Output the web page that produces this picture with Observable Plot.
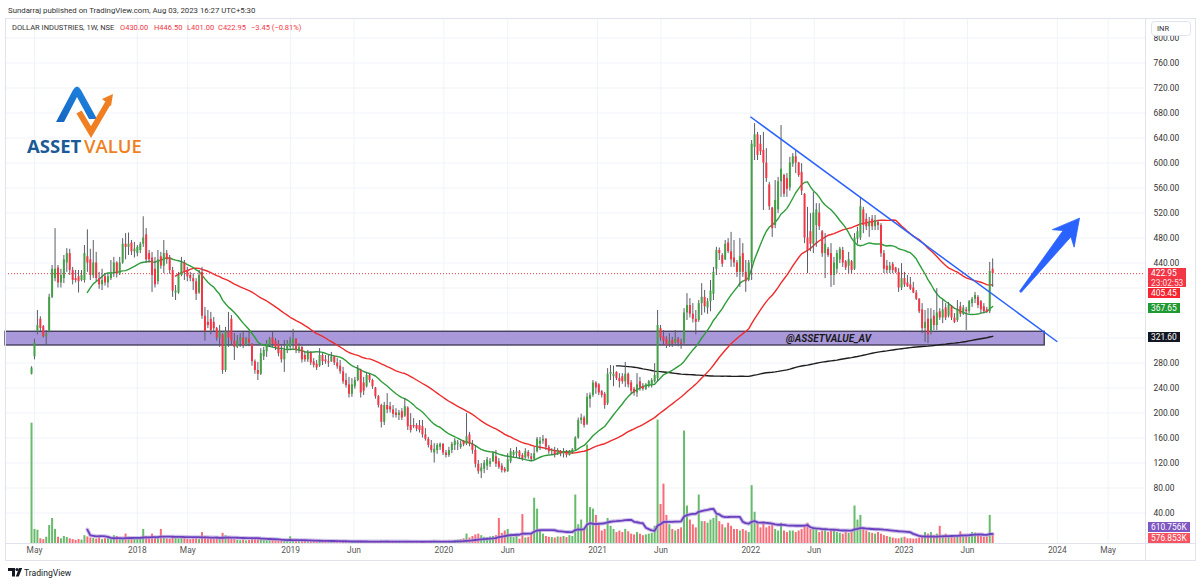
<!DOCTYPE html>
<html>
<head>
<meta charset="utf-8">
<script src="https://cdn.jsdelivr.net/npm/d3@7"></script>
<script src="https://cdn.jsdelivr.net/npm/@observablehq/plot@0.6"></script>
<style>
html,body{margin:0;padding:0;background:#fff;}
#root{position:relative;width:1200px;height:584px;overflow:hidden;font-family:Roboto,"Noto Sans",sans-serif;color:#131722;}
.layer{position:absolute;left:0;top:18px;}
#labels{position:absolute;left:1145px;top:18px;width:55px;height:525px;overflow:hidden;}
.lbl{position:absolute;left:3px;font-size:8.4px;line-height:10px;color:#fff;padding:0 3px;white-space:nowrap;}
.frame{position:absolute;background:#e0e3eb;}
</style>
</head>
<body>
<div id="root"></div>
<script>
// ---------- data ----------
const firstWeek = "2017-04-24";
const opens = [
262,290,330,350,338,322,330,385,415,432, 408,415,440,455,428,415,418,412,412,450,
445,420,440,415,405,418,408,415,425,440, 422,440,470,465,472,458,455,460,470,485,
455,448,430,410,450,435,455,448,428,392, 392,420,440,428,420,415,410,392,425,355,
345,350,345,335,320,325,268,330,350,315, 305,315,320,308,318,310,282,268,262,290,
298,308,320,315,310,300,285,300,305,312, 318,300,305,292,285,296,282,278,275,292,
285,282,282,290,280,275,266,252,245,230, 242,252,268,248,242,260,252,240,226,212,
185,212,210,205,200,196,202,195,208,180, 180,180,180,178,165,158,148,136,140,145,
150,136,132,140,148,150,145,155,150,165, 150,140,118,106,110,115,118,122,130,122,
115,110,106,122,132,135,138,132,128,137, 130,126,138,150,155,158,145,138,140,133,
138,134,138,132,136,141,160,188,192,182, 222,228,248,245,234,230,215,262,258,265,
255,258,250,262,248,238,232,250,242,238, 242,244,250,255,335,322,318,310,316,312,
318,312,312,360,372,358,350,348,375,385, 368,378,390,430,460,452,445,472,458,448,
440,425,455,425,412,440,625,645,630,620, 600,565,528,500,525,570,580,575,560,598,
610,600,585,550,480,490,470,500,520,490, 455,462,455,420,430,445,460,442,435,442,
430,478,480,525,510,498,510,498,505,500, 455,435,428,438,432,425,400,415,408,405,
400,392,382,365,335,350,330,355,340,362, 352,368,355,370,352,348,370,358,365,362,
375,382,385,378,370,365,362,430];
const highs = [
274,318,364,354,340,332,390,436,495,436, 430,452,463,462,433,428,428,428,468,493,
462,476,457,425,430,423,423,444,449,442, 449,479,487,488,476,473,468,473,514,495,
460,457,449,460,457,476,460,452,433,404, 425,449,444,433,425,423,415,428,433,369,
364,361,353,337,340,327,337,361,356,327, 324,327,329,321,329,311,285,281,303,305,
316,321,329,319,316,308,316,316,321,334, 319,311,306,297,300,298,287,284,303,295,
292,292,297,291,287,284,273,263,257,255, 257,276,270,257,265,262,254,241,228,214,
217,231,217,212,207,204,207,223,210,199, 191,183,188,188,175,161,156,151,151,152,
151,140,145,153,159,156,155,156,199,169, 156,148,124,119,124,129,127,137,140,127,
119,113,135,143,140,145,140,135,143,140, 135,145,161,161,164,159,148,143,145,143,
140,143,140,140,143,162,192,198,195,231, 232,252,250,247,236,233,271,276,275,266,
263,263,281,264,252,241,263,257,247,247, 252,255,279,364,340,332,322,327,321,332,
321,318,367,391,383,375,364,380,407,396, 383,412,433,465,464,455,476,479,489,476,
444,479,471,444,444,636,663,649,644,649, 623,569,529,572,577,660,582,583,609,615,
620,601,599,551,529,519,553,535,535,492, 487,465,471,449,460,465,465,444,457,444,
487,497,545,529,519,513,516,516,508,503, 460,444,441,441,433,431,439,425,420,417,
409,396,383,375,364,367,367,364,399,367, 380,375,377,372,359,380,377,372,369,380,
385,393,388,380,375,369,441,446.5];
const lows = [
261,285,325,330,320,308,328,383,410,400, 400,407,425,420,405,408,392,410,408,425,
412,415,410,398,396,403,400,412,417,416, 420,438,445,452,452,448,450,455,465,440,
440,393,400,405,430,423,438,422,385,380, 390,418,412,410,410,396,380,390,350,315,
335,325,330,315,305,262,265,305,308,284, 303,305,303,306,306,275,262,252,260,284,
289,305,305,300,290,280,265,295,300,303, 295,295,280,281,281,276,272,268,273,276,
278,273,281,276,270,262,246,240,224,225, 238,250,224,228,240,248,238,222,208,176,
180,199,200,192,192,188,188,193,172,168, 175,170,168,160,155,144,136,120,134,140,
132,128,129,135,140,140,142,146,148,146, 134,112,102,95,103,108,113,121,113,110,
104,104,105,119,129,128,126,123,126,126, 122,124,136,140,150,140,134,132,128,132,
130,128,128,131,134,140,158,182,176,180, 208,225,230,228,224,206,212,252,242,252,
240,246,241,240,230,227,225,235,235,236, 240,240,248,250,315,308,303,305,305,310,
306,302,310,348,352,344,325,345,356,360, 358,362,380,420,444,433,444,455,433,433,
417,401,417,393,410,412,604,604,612,524, 569,524,481,495,519,545,545,545,555,593,
583,577,548,471,423,458,455,465,492,449, 415,449,401,404,423,439,433,428,423,423,
428,470,476,487,492,481,492,492,492,449, 423,423,423,423,423,393,396,401,401,396,
391,380,359,327,313,311,325,332,332,348, 343,348,352,348,343,345,353,356,332,359,
369,375,367,359,359,359,359,401];
const closes = [
272,312,340,335,322,326,385,430,430,408, 420,445,455,428,412,412,410,420,455,440,
420,440,415,405,412,408,418,425,440,422, 440,470,465,470,458,462,465,470,480,445,
445,420,405,445,435,455,445,428,395,395, 420,440,425,418,415,410,390,420,355,330,
340,332,335,320,330,268,330,320,315,305, 315,320,308,318,312,282,268,262,295,300,
310,318,310,305,295,285,300,310,315,318, 300,305,285,285,296,280,276,272,292,282,
282,280,290,280,274,266,250,244,230,245, 252,270,232,235,260,252,242,226,212,185,
212,205,205,198,196,200,192,210,178,172, 178,174,172,165,158,148,140,142,148,150,
136,132,140,150,155,152,150,149,162,150, 140,118,106,112,120,125,122,135,118,113,
108,106,125,138,137,138,130,127,138,130, 126,135,158,155,158,145,138,140,133,140,
134,138,132,138,141,160,188,192,180,225, 228,248,240,232,228,212,262,265,262,255,
250,250,262,245,235,232,245,240,238,245, 250,252,260,340,320,315,308,315,310,318,
312,310,360,372,358,350,345,375,385,370, 378,395,425,460,455,438,470,458,445,440,
425,450,425,410,440,630,645,612,618,600, 575,530,495,540,570,590,550,558,600,610,
600,580,555,480,460,470,520,525,498,455, 470,452,420,440,455,462,440,432,445,428,
480,490,530,500,498,505,498,508,500,455, 430,428,435,428,425,400,415,405,402,398,
392,382,362,335,345,325,350,340,360,352, 365,352,372,352,345,365,358,368,362,378,
382,388,372,365,362,361,426.4,422.95];
// weekly volume, thousands of shares
const volumesK = [
7700,900,850,300,250,400,1150,1600,900,400,300,450,380,300,250,200,260,220,500,420,
350,320,280,400,250,300,350,280,500,450,300,320,600,400,350,300,280,350,900,450,
400,600,350,300,900,350,300,280,450,350,300,380,320,280,250,300,350,280,700,450,
400,350,300,380,320,650,500,380,300,260,200,180,220,170,190,280,320,300,230,200,
180,170,200,160,180,220,240,170,430,160,150,130,150,120,110,130,140,120,160,130,
110,100,120,100,110,120,150,130,160,140,110,140,150,120,100,90,100,110,120,170,
160,130,100,100,90,110,100,130,140,120,100,90,110,100,120,130,150,170,130,120,
120,130,150,140,180,220,250,300,600,350,450,550,600,500,400,380,420,450,500,1600,
650,800,900,600,380,500,280,1850,350,400,600,2900,2200,800,600,450,400,380,350,420,
400,450,380,500,450,3100,1200,1500,900,6300,2300,2200,1800,1200,800,900,1600,1100,900,700,
800,700,900,750,600,550,700,600,500,550,600,650,1100,7900,2500,3800,1800,1200,900,800,
900,1000,7200,2400,1500,1200,1000,3100,1400,1400,1300,1500,1600,1800,1400,1200,1000,1300,1100,900,
900,800,900,800,700,3700,2000,1300,1000,1400,1000,1100,1200,900,800,1300,800,700,800,800,
700,800,900,1100,1300,900,1000,900,700,800,900,700,900,800,700,650,600,700,650,700,
2400,1500,1800,1000,800,700,650,600,700,600,500,450,400,350,300,300,350,400,300,300,
280,300,350,450,700,600,700,500,
600,1100,500,600,450,500,400,450,750,500,450,400,700,668.267,500,450,400,420,1800,576.853];

const priceTicks = [40,80,120,160,200,240,280,320,360,400,440,480,520,560,600,640,680,720,760,800];
const tickDates = ["2017-05-01","2018-01-01","2018-05-01","2019-01-01","2019-06-01","2020-01-01","2020-06-01","2021-01-01","2021-06-01","2022-01-01","2022-06-01","2023-01-01","2023-06-01","2024-01-01","2024-05-01"];
const tickLabels = ["May","2018","May","2019","Jun","2020","Jun","2021","Jun","2022","Jun","2023","Jun","2024","May"];

const zoneBox = {x1:"2017-02-21", x2:"2023-12-02", y1:308, y2:330, label:"@ASSETVALUE_AV", labelAt:"2022-07-05"};
const trendLine = {x1:"2021-12-31", y1:674, x2:"2024-01-01", y2:314};
const bigArrow = {x1:"2023-10-06", y1:393, x2:"2024-02-24", y2:511};
const axisLabels = {sma50:"405.45", sma20:"367.65", sma200:"321.60", volMA:"610.756K", vol:"576.853K", countdown:"23:02:53"};
const change = {abs:"−3.45", pct:"(−0.81%)"};

// ---------- build ----------
const parse = d3.utcParse("%Y-%m-%d");
const t0 = parse(firstWeek);
const n = Math.min(opens.length, highs.length, lows.length, closes.length, volumesK.length);
const candles = d3.range(n).map(i => ({
  date: d3.utcDay.offset(t0, 7*i), open: opens[i], high: highs[i], low: lows[i], close: closes[i], vol: volumesK[i]*1000
}));
const sma = (arr, k) => arr.map((_, i) => i < k-1 ? NaN : d3.mean(arr.slice(i-k+1, i+1)));
const cl = candles.map(d => d.close), vv = candles.map(d => d.vol);
const s20 = sma(cl,20), s50 = sma(cl,50), s200 = sma(cl,200), v20 = sma(vv,20);
candles.forEach((d,i) => {d.s20 = s20[i]; d.s50 = s50[i]; d.s200 = s200[i]; d.v20 = v20[i];});

const GREEN = "#43a047", RED = "#f23645";
const xDomain = [parse("2017-02-21"), parse("2024-07-29")];
const priceDomain = [-8.8, 831.2];
const volTop = 525 * 64000;
const base = {
  width: 1200, height: 543, marginLeft: 5, marginRight: 55, marginTop: 0, marginBottom: 18,
  x: {type: "utc", domain: xDomain, axis: null},
  style: {background: "transparent", fontFamily: "Roboto, 'Noto Sans', sans-serif", fontSize: "8.4px", overflow: "visible"}
};
const tickData = tickDates.map((d,i) => ({date: parse(d), label: tickLabels[i]}));
const zone = [{x1: parse(zoneBox.x1), x2: parse(zoneBox.x2), y1: zoneBox.y1, y2: zoneBox.y2, label: zoneBox.label, tx: parse(zoneBox.labelAt), ty: (zoneBox.y1+zoneBox.y2)/2}];
const trend = [{x1: parse(trendLine.x1), y1: trendLine.y1, x2: parse(trendLine.x2), y2: trendLine.y2}];
const last = candles[candles.length-1];

const gridPlot = Plot.plot({...base, y: {domain: priceDomain, axis: null}, marks: [
  Plot.ruleY(priceTicks, {stroke: "#f0f3fa", strokeWidth: 1}),
  Plot.ruleX(tickData, {x: "date", stroke: "#f0f3fa", strokeWidth: 1})
]});

const volPlot = Plot.plot({...base, y: {domain: [0, volTop], axis: null}, marks: [
  Plot.ruleX(candles, {x: "date", y1: 0, y2: "vol", stroke: d => d.close >= d.open ? "#4caf50" : "#f7525f", strokeWidth: 2, strokeOpacity: 0.85}),
  Plot.line(candles, {x: "date", y: "v20", stroke: "#b39ddb", strokeWidth: 4, strokeOpacity: 0.6}),
  Plot.line(candles, {x: "date", y: "v20", stroke: "#6a3fc0", strokeWidth: 1.8})
]});

const pricePlot = Plot.plot({...base, y: {domain: priceDomain, axis: null}, marks: [
  Plot.rect(zone, {x1: "x1", x2: "x2", y1: "y1", y2: "y2", fill: "#9a86d4", fillOpacity: 0.85, stroke: "#3b3550", strokeWidth: 1.3}),
  Plot.ruleY([last.close], {stroke: RED, strokeWidth: 1, strokeDasharray: "1,2"}),
  Plot.line(candles, {x: "date", y: "s200", stroke: "#1e1e1e", strokeWidth: 1.4}),
  Plot.line(candles, {x: "date", y: "s50", stroke: "#ef2b2b", strokeWidth: 1.4}),
  Plot.line(candles, {x: "date", y: "s20", stroke: "#2e9d3a", strokeWidth: 1.4}),
  Plot.ruleX(candles, {x: "date", y1: "low", y2: "high", stroke: "#5a5d66", strokeWidth: 1}),
  Plot.ruleX(candles, {x: "date", y1: "open", y2: "close", stroke: d => d.close >= d.open ? GREEN : RED, strokeWidth: 2}),
  Plot.text(zone, {x: "tx", y: "ty", text: "label", fontStyle: "italic", fontWeight: "bold", fontSize: 10, fill: "#1a1a1a"}),
  Plot.link(trend, {x1: "x1", y1: "y1", x2: "x2", y2: "y2", stroke: "#2962ff", strokeWidth: 1.5}),
  Plot.text(priceTicks, {y: d => d, text: d => d.toFixed(2), frameAnchor: "right", dx: 8, textAnchor: "start", fill: "#333", fontSize: 8.4}),
  Plot.text(tickData, {x: "date", text: "label", frameAnchor: "bottom", dy: 9, fill: "#555", fontSize: 8.4})
]});

// blue arrow drawn through the plot's own scales
(function(){
  const xs = pricePlot.scale("x"), ys = pricePlot.scale("y");
  const p0 = [xs.apply(parse(bigArrow.x1)), ys.apply(bigArrow.y1)];
  const p1 = [xs.apply(parse(bigArrow.x2)), ys.apply(bigArrow.y2)];
  const dx = p1[0]-p0[0], dy = p1[1]-p0[1], L = Math.hypot(dx,dy);
  const u = [dx/L, dy/L], nn = [-u[1], u[0]];
  const P = (a, b) => [p0[0] + u[0]*a + nn[0]*b, p0[1] + u[1]*a + nn[1]*b];
  const hb = L - 24;
  const pts = [P(0,1), P(hb+4,5), P(hb-2,14), P(L,0), P(hb-2,-14), P(hb+4,-5), P(0,-1)];
  d3.select(pricePlot).append("path")
    .attr("d", "M" + pts.map(p => p.join(",")).join("L") + "Z")
    .attr("fill", "#2962ff").attr("stroke", "#2962ff").attr("stroke-width", 0.8).attr("stroke-linejoin", "round");
})();

const root = document.getElementById("root");
for (const p of [gridPlot, volPlot, pricePlot]) { p.classList.add("layer"); p.style.position = "absolute"; p.style.left = "0px"; p.style.top = "18px"; root.appendChild(p); }

// frame lines
const frames = [[5,18,1190,1],[5,560,1190,1],[5,18,1,543],[1195,18,1,543],[1145,18,1,543],[5,543,1190,1]];
for (const [l,t,w,h] of frames) { const d = document.createElement("div"); d.className = "frame"; Object.assign(d.style, {left:l+"px", top:t+"px", width:w+"px", height:h+"px"}); root.appendChild(d); }

// right-axis value labels, positioned with the plots' scales
const ys = pricePlot.scale("y"), vs = volPlot.scale("y");
const labels = document.createElement("div"); labels.id = "labels"; root.appendChild(labels);
const spans = [];
function box(top, html, bg, h) { const d = document.createElement("div"); d.className = "lbl"; d.innerHTML = html; Object.assign(d.style, {top: top+"px", background: bg, height: h+"px"}); labels.appendChild(d); spans.push([top, top+h]); return top + h; }
const yA = ys.apply(last.close);
let bottom = box(yA - 5, last.close.toFixed(2) + "<br><span style='opacity:.85'>" + axisLabels.countdown + "</span>", RED, 19);
box(Math.max(ys.apply(+axisLabels.sma50) - 5, bottom + 1), axisLabels.sma50, "#f7232e", 10);
box(ys.apply(+axisLabels.sma20) - 5, axisLabels.sma20, "#1f9a33", 10);
box(ys.apply(+axisLabels.sma200) - 5, axisLabels.sma200, "#131722", 10);
const vTop = Math.min(vs.apply(last.v20) - 5, 525 - 21);
bottom = box(vTop, axisLabels.volMA, "#7e57c2", 10);
box(bottom + 1, axisLabels.vol, "#f7525f", 10);

// price tick labels that sit under a value label are hidden (as on the reference)
const hidden = new Set(priceTicks.filter(v => { const y = ys.apply(v); return spans.some(([a,b]) => y > a - 4 && y < b + 4); }).map(v => v.toFixed(2)));
d3.select(pricePlot).selectAll("text").filter(function(){ return hidden.has(this.textContent); }).remove();

// overlay texts: header, legend, logo, INR, footer
const ov = document.createElementNS("http://www.w3.org/2000/svg", "svg");
ov.setAttribute("width", 1200); ov.setAttribute("height", 584);
ov.style.position = "absolute"; ov.style.left = "0"; ov.style.top = "0";
ov.innerHTML = `
<g font-family="Roboto, 'Noto Sans', sans-serif">
<text x="8" y="12.5" font-size="7.8" fill="#333">Sundarraj published on TradingView.com, Aug 03, 2023 16:27 UTC+5:30</text>
<text x="12" y="29.5" font-size="7.5" fill="#333">DOLLAR INDUSTRIES, 1W, NSE</text>
<g font-size="7.5" fill="${RED}">
<text x="120" y="29.5">O${last.open.toFixed(2)}</text>
<text x="154" y="29.5">H${last.high.toFixed(2)}</text>
<text x="187" y="29.5">L${last.low.toFixed(2)}</text>
<text x="218" y="29.5">C${last.close.toFixed(2)}</text>
<text x="251" y="29.5">${change.abs} ${change.pct}</text>
</g>
<rect x="1151.5" y="21.5" width="39" height="14" rx="3" fill="#fff" stroke="#e0e3eb"/>
<text x="1157" y="31" font-size="7.5" fill="#333">INR</text>
<defs><linearGradient id="gb" x1="0" y1="1" x2="1" y2="0"><stop offset="0" stop-color="#1565c0"/><stop offset="1" stop-color="#1e88e5"/></linearGradient></defs>
<path d="M56,122 L73,90 Q77,83 81,90 L97,119 L89,119 L77,97 L64,122 Z" fill="url(#gb)"/>
<path d="M79,112 L91,132 L108,103" fill="none" stroke="#f07f22" stroke-width="6" stroke-linejoin="miter"/>
<path d="M102,99 L113,94 L111,106 Z" fill="#f07f22"/>
<text x="27" y="153" font-size="18.5" font-family="'Open Sans', Roboto, sans-serif" font-weight="700" fill="#1b5a96">ASSET</text>
<text x="84" y="153" font-size="18.5" font-family="'Open Sans', Roboto, sans-serif" font-weight="600" fill="#f07f22">VALUE</text>
<path d="M8,568 h7 v8.5 h-3 v-5.5 h-4 z" fill="#131722"/>
<circle cx="17" cy="569.5" r="1.6" fill="#131722"/>
<path d="M19,568 h3.2 l-3.4,8.5 h-3 z" fill="#131722"/>
<text x="24" y="575.5" font-size="8.6" fill="#131722">TradingView</text>
</g>
`;
root.appendChild(ov);
</script>
</body>
</html>
